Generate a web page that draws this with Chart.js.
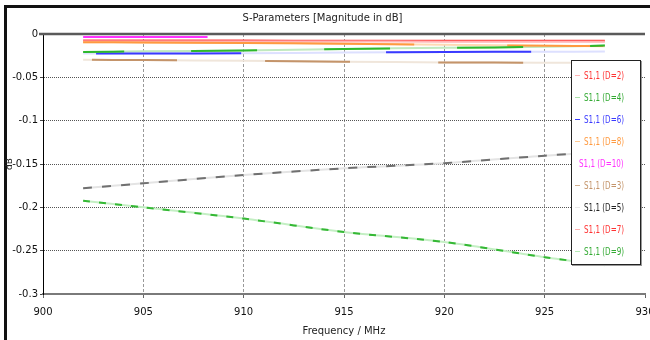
<!DOCTYPE html>
<html>
<head>
<meta charset="utf-8">
<script src="https://cdn.jsdelivr.net/npm/chart.js@4/dist/chart.umd.min.js"></script>
<style>
  html, body { margin: 0; padding: 0; background: #fff; }
  #wrap { position: relative; width: 650px; height: 340px; overflow: hidden; }
  #frame { position: absolute; left: 4px; top: 5px; right: -4px; bottom: -4px;
           border-top: 3px solid #111; border-left: 3px solid #111; }
  #legend { position: absolute; left: 571px; top: 60px; width: 68px; height: 199px;
            background: #fff; border: 1.5px solid #222; box-shadow: 1px 1px 0 #999;
            font-family: "DejaVu Sans", sans-serif;
            font-size: 10px; padding-top: 4px; box-sizing: content-box; white-space: nowrap; }
  .row { height: 21.9px; display: flex; align-items: center; }
  .row span.ln { display: inline-block; width: 17px; height: 0; margin: 0 4px 0 3px; border-top: 1.5px solid; }
  .row span.tx { display: inline-block; transform: scaleX(0.72); transform-origin: left center; }
  canvas { position: absolute; left: 0; top: 0; }
</style>
</head>
<body>
<div id="wrap">
  <div id="frame"></div>
  <canvas id="c" width="650" height="340"></canvas>
  <div id="legend"></div>
</div>
<script>
// frequencies (MHz) where values were read
const freqs = [902, 905, 910, 915, 920, 925, 928];
const freqsD10 = [902, 905, 908.2];

// S1,1 magnitude in dB per sweep value
const d2 = [-0.0086, -0.0086, -0.0087, -0.0087, -0.0088, -0.0088, -0.0088];
const d4 = [-0.0208, -0.0200, -0.0190, -0.0172, -0.0160, -0.0148, -0.0134];
const d6 = [-0.0225, -0.0225, -0.0222, -0.0214, -0.0207, -0.0205, -0.0203];
const d8 = [-0.0095, -0.0098, -0.0103, -0.0112, -0.0125, -0.0135, -0.0140];
const d10 = [-0.0035, -0.0035, -0.0035];
const d3 = [-0.0298, -0.0300, -0.0310, -0.0320, -0.0328, -0.0332, -0.0334];
const d5 = [-0.1780, -0.1723, -0.1627, -0.1550, -0.1490, -0.1404, -0.1360];
const d7 = [-0.0075, -0.0076, -0.0076, -0.0077, -0.0077, -0.0078, -0.0078];
const d9 = [-0.1924, -0.2000, -0.2130, -0.2285, -0.2400, -0.2575, -0.2667];

const seriesNames = ["S1,1 (D=2)", "S1,1 (D=4)", "S1,1 (D=6)", "S1,1 (D=8)", "S1,1 (D=10)",
                     "S1,1 (D=3)", "S1,1 (D=5)", "S1,1 (D=7)", "S1,1 (D=9)"];

const xTicks = [900, 905, 910, 915, 920, 925, 930];
const xTickLabels = ["900", "905", "910", "915", "920", "925", "930"];
const yTicks = [-0.3, -0.25, -0.2, -0.15, -0.1, -0.05, 0];
const yTickLabels = ["-0.3", "-0.25", "-0.2", "-0.15", "-0.1", "-0.05", "0"];

function pts(xs, ys) {
  return xs.map((x, i) => ({ x: x, y: ys[i] }));
}

// pale = underlying line, dark = dashed overlay on top of it
const styles = [
  { pale: "#ffb4b4", dark: "#ff3333", dash: null },
  { pale: "#bfe9bf", dark: "#2db82d", dash: [66, 67], off: 25 },
  { pale: "#dde0ff", dark: "#3a3aff", dash: [145, 145], off: 277 },
  { pale: "#ffd9b3", dark: "#ff9a40", dash: [331, 93, 96, 200], off: 0 },
  { pale: "#ff33ff", dark: "#ff33ff", dash: null },
  { pale: "#f0e6db", dark: "#c4946a", dash: [85, 88], off: 164 },
  { pale: "#e4e4e4", dark: "#707070", dash: [9, 10], off: 0 },
  { pale: "#ff4040", dark: "#ff3333", dash: null },
  { pale: "#c4efc4", dark: "#35b835", dash: [7, 9], off: 0 }
];
const legendLine = ["#ffb4b4", "#a8e2a8", "#3a3aff", "#ffc890", "#ff33ff", "#d2b090", "#e8e8e8", "#ffb0b0", "#b4e8b4"];
const legendText = ["#ff3333", "#33aa33", "#3a3aff", "#ff9a40", "#ff33ff", "#c4946a", "#222222", "#ff3333", "#33aa33"];

// chart.js paints dataset 0 last (on top), so dashes go in first
const values = [d2, d4, d6, d8, d10, d3, d5, d7, d9];
const overlays = [];
const bases = [];
values.forEach((v, i) => {
  const xs = i === 4 ? freqsD10 : freqs;
  const st = styles[i];
  bases.push({
    label: seriesNames[i],
    data: pts(xs, v),
    borderColor: st.pale,
    borderWidth: 2,
    pointRadius: 0,
    tension: 0.3
  });
  if (st.dash) {
    overlays.push({
      label: seriesNames[i] + " dash",
      data: pts(xs, v),
      borderColor: st.dark,
      borderWidth: 2,
      borderDash: st.dash,
      borderDashOffset: st.off,
      pointRadius: 0,
      tension: 0.3
    });
  }
});
const datasets = overlays.concat(bases);

// legend as real text
const lg = document.getElementById("legend");
seriesNames.forEach((n, i) => {
  const r = document.createElement("div");
  r.className = "row";
  r.innerHTML = '<span class="ln" style="border-color:' + legendLine[i] + '"></span>' +
                '<span class="tx" style="color:' + legendText[i] + '">' + n + '</span>';
  lg.appendChild(r);
});

const FONT = "'DejaVu Sans', sans-serif";

const topLine = {
  id: "topLine",
  afterDraw(chart) {
    const { ctx, chartArea } = chart;
    ctx.save();
    ctx.strokeStyle = "#5a5a5a";
    ctx.lineWidth = 2.5;
    ctx.beginPath();
    ctx.moveTo(chartArea.left - 4, chartArea.top);
    ctx.lineTo(chartArea.right, chartArea.top);
    ctx.stroke();
    ctx.restore();
  }
};

new Chart(document.getElementById("c"), {
  type: "line",
  data: { datasets: datasets },
  plugins: [topLine],
  options: {
    responsive: false,
    animation: false,
    layout: { padding: { left: 0, right: 5, top: 0, bottom: 0 } },
    plugins: {
      legend: { display: false },
      tooltip: { enabled: false },
      title: {
        display: true,
        text: "S-Parameters [Magnitude in dB]",
        color: "#222",
        font: { family: FONT, size: 10, weight: "normal" },
        padding: { top: 12, bottom: 10 }
      }
    },
    scales: {
      x: {
        type: "linear",
        min: 900,
        max: 930,
        afterFit: (s) => { s.height = 46; s.paddingLeft = 0; s.paddingRight = 0; },
        afterBuildTicks: (s) => { s.ticks = xTicks.map(v => ({ value: v })); },
        ticks: {
          color: "#111",
          font: { family: FONT, size: 10 },
          padding: 8,
          maxRotation: 0,
          callback: (v) => xTickLabels[xTicks.indexOf(v)]
        },
        grid: {
          color: (c) => (c.tick && (c.tick.value === 900 || c.tick.value === 930)) ? "rgba(0,0,0,0)" : "#999",
          tickColor: "#666",
          tickLength: 4,
          lineWidth: 1
        },
        border: { color: "#7a7a7a", width: 2, dash: [3, 2] },
        title: {
          display: true,
          text: "Frequency / MHz",
          color: "#222",
          font: { family: FONT, size: 10 },
          padding: { top: 3, bottom: 3 }
        }
      },
      y: {
        type: "linear",
        min: -0.3,
        max: 0,
        afterFit: (s) => { s.width = 43; },
        afterBuildTicks: (s) => { s.ticks = yTicks.map(v => ({ value: v })); },
        ticks: {
          color: "#111",
          font: { family: FONT, size: 10 },
          padding: 2,
          callback: (v) => yTickLabels[yTicks.findIndex(t => Math.abs(t - v) < 1e-9)]
        },
        grid: {
          color: (c) => (c.tick && (Math.abs(c.tick.value) < 1e-9 || Math.abs(c.tick.value + 0.3) < 1e-9)) ? "rgba(0,0,0,0)" : "#555",
          tickColor: "#444",
          tickLength: 3,
          lineWidth: 1
        },
        border: { color: "#000", width: 1, dash: [1, 1] },
        title: {
          display: true,
          text: "dB",
          color: "#222",
          font: { family: FONT, size: 9 },
          padding: { top: 4, bottom: 4 }
        }
      }
    }
  }
});
</script>
</body>
</html>
